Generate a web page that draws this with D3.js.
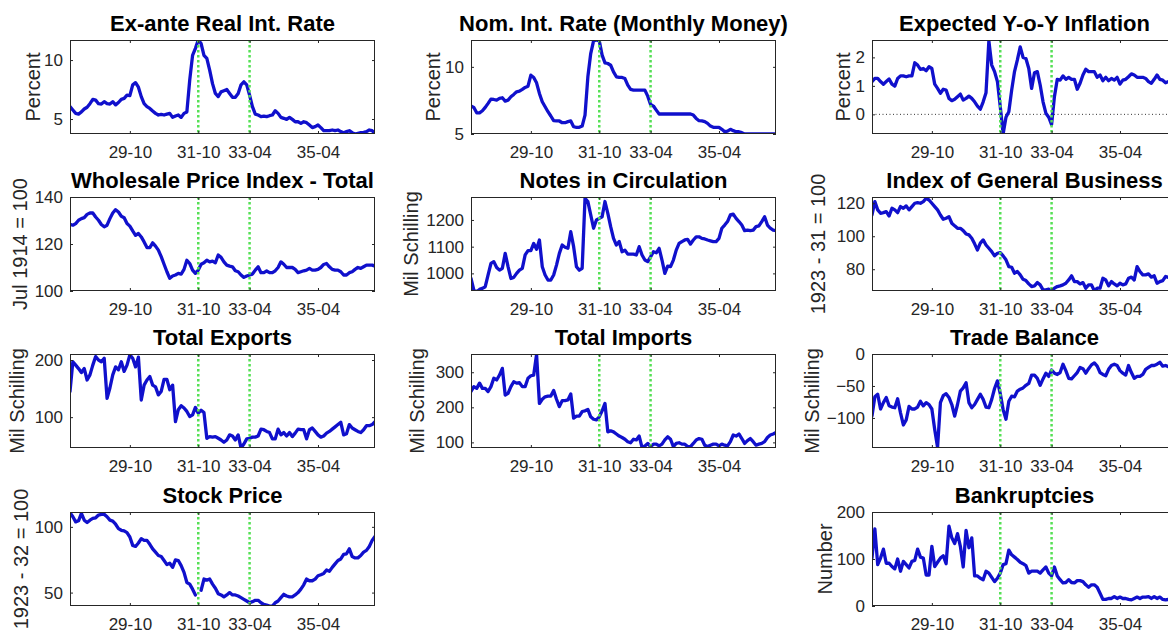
<!DOCTYPE html>
<html>
<head>
<meta charset="utf-8">
<script src="https://cdn.jsdelivr.net/npm/d3@7"></script>
<style>
  html, body { margin: 0; padding: 0; background: #ffffff; }
  svg { display: block; font-family: "Liberation Sans", Arial, Helvetica, sans-serif; }
</style>
</head>
<body>
<svg id="chart" width="1168" height="633"></svg>
<script>
// ---------------- DATA (monthly, Jan 1928 .. Dec 1936) ----------------
const tickMonths = [21, 45, 63, 87];
const tickLabels = ["29-10", "31-10", "33-04", "35-04"];
const markerMonths = [45, 63]; // 31-10 and 33-04

const realRate = [6.05,5.76,5.48,5.42,5.6,5.85,6.0,6.3,6.67,6.6,
  6.3,6.27,6.47,6.3,6.27,6.47,6.2,6.4,6.67,6.75,
  7.03,6.98,7.9,8.08,7.7,6.9,6.3,6.05,5.9,5.68,
  5.48,5.34,5.4,5.34,5.42,5.48,5.14,5.25,5.34,5.14,
  5.48,5.6,8.3,10.4,10.99,11.7,11.4,10.4,10.14,9.15,
  8.0,7.17,6.9,7.3,7.4,7.5,7.17,6.84,6.84,7.17,
  7.9,8.16,7.9,7.03,6.05,5.42,5.34,5.2,5.25,5.2,
  5.28,5.34,5.7,5.48,5.14,5.06,4.97,5.14,4.97,4.77,
  4.77,4.63,4.77,4.69,4.49,4.27,4.35,4.49,4.27,4.01,
  4.01,4.01,4.07,4.01,4.07,3.93,3.84,3.93,4.01,3.84,
  3.73,3.79,3.84,3.87,3.93,4.07,4.01,3.79];

const nomRate = [7.08,6.98,6.58,6.58,6.73,6.98,7.28,7.6,7.57,7.52,
  7.65,7.7,7.45,7.52,7.77,7.95,8.14,8.19,8.32,8.47,
  8.56,9.38,9.21,8.81,8.02,7.4,7.03,6.66,6.34,5.99,
  5.97,5.97,5.84,5.84,5.92,5.97,5.54,5.5,5.5,5.59,
  6.41,9.26,10.99,11.93,12,11.93,10.87,10.3,10.25,10.12,
  9.63,9.26,9.21,9.21,9.13,8.64,8.32,8.27,8.27,8.27,
  8.27,8.27,7.82,7.2,7.08,6.78,6.49,6.49,6.49,6.49,
  6.49,6.49,6.49,6.49,6.49,6.49,6.49,6.49,6.41,6.16,
  5.99,5.97,5.92,5.79,5.59,5.5,5.5,5.5,5.35,5.17,
  5.22,5.35,5.25,5.17,5.17,5.1,5,5,5,5,
  5,5,5,5,5,5,5,5];

const expInflation = [1.15,1.26,1.26,1.15,1.06,1.15,1.24,1.06,0.99,1.26,
  1.35,1.35,1.32,1.35,1.35,1.81,1.73,1.58,1.61,1.53,
  1.67,1.61,1.06,0.91,0.74,0.88,0.85,0.56,0.48,0.53,
  0.62,0.71,0.5,0.56,0.64,0.56,0.44,0.29,0.18,0.44,
  0.76,2.58,1.73,1.5,1.15,0.27,-0.69,-0.1,0.09,0.85,
  1.5,1.91,2.37,2.0,1.96,1.61,0.91,1.46,1.5,1.03,
  0.44,0.04,-0.1,-0.36,0.62,1.23,1.2,1.35,1.23,1.3,
  1.23,1.23,0.88,1.09,1.38,1.58,1.5,1.5,1.5,1.3,
  1.38,1.18,1.3,1.18,1.26,1.2,1.3,1.06,1.2,1.23,
  1.32,1.42,1.38,1.3,1.3,1.3,1.26,1.15,1.09,1.23,
  1.38,1.23,1.2,1.11,1.15,1.2,1.1,1.15];

const wholesalePrice = [128.4,128,128.7,130.1,130.8,131.2,132.6,133.2,133.2,131.5,
  130.1,128.3,127.3,128,130.8,133.2,134.6,133.6,131.8,131.2,
  128.7,127.6,125.6,123.7,124.5,123,120.9,118.5,118.5,120.5,
  119.1,117.4,114.6,111.4,108.2,105.4,106.4,106.8,107.5,107.2,
  109.2,113.1,111.7,108.9,107.5,108.9,111.4,112,113.1,112.4,
  112.7,112,115.3,114.3,112.4,111,110.6,110.3,108.6,108.2,
  106.8,105.8,106.4,106.8,107.2,108.9,110.3,107.8,107.8,108.5,
  107.8,107.8,108.6,110,112.4,111.4,110,110,110,109.2,
  107.8,108.2,108.6,108.9,109.6,108.9,108.9,109.2,110,111.3,
  111.7,110.3,109.2,108.9,108.9,108.2,106.8,106.8,107.8,108.2,
  109.2,110,109.6,110.3,111,111,111,110.6];

const notesCirculation = [981,937,931,940,944,950,994,1037,1044,1022,
  1012,1019,1075,1025,981,985,1000,1012,1019,1069,
  1085,1085,1112,1090,1125,1025,994,975,975,994,
  1031,1075,1106,1098,1094,1156,1100,1025,1012,1019,
  1281,1269,1219,1169,1200,1206,1212,1269,1225,1175,
  1131,1106,1119,1081,1087,1072,1072,1072,1069,1100,
  1069,1050,1044,1062,1081,1077,1094,1050,1000,1027,
  1025,1050,1087,1112,1119,1125,1127,1110,1125,1137,
  1137,1131,1129,1125,1122,1119,1119,1131,1169,1181,
  1194,1219,1222,1206,1194,1181,1160,1162,1160,1162,
  1175,1178,1194,1212,1181,1169,1162,1160];

const generalBusiness = [112.9,121,116,113.9,114.3,114.9,112.3,117,116,114.3,
  118,117,118.4,116,118,120,120.4,120,121,123,
  122,120,118,116,112.9,110.3,110.9,111.9,107.9,106.3,
  104.8,104.8,103.4,101.4,100.8,98.8,95.4,91.7,95.8,97.8,
  94.7,92.7,90.7,88.1,89.7,90.1,88.1,85.7,81.6,81.2,
  77.6,78.6,76.6,73.9,73.1,71.1,69.5,69.9,71.9,70.5,
  67.5,67.5,67.9,66.9,68.5,69.5,69.9,70.5,71.5,73.5,
  76,72.5,72.5,71.1,71.9,68.5,70.5,70.5,66.9,68.5,
  68.5,74.5,73.5,69.9,72.5,71.1,69.9,71.5,70.5,71.1,
  74.5,75.2,73.5,81.6,78.6,76.6,76.6,77.2,75.2,76,
  71.5,72.5,73.1,75.6,75,76,74,77];

const totalExports = [144.8,197,191,185,178,185,165,174,191,206,
  200,197,203,133,151,174,188,183,197,180,
  191,209,203,188,205,130,156,165,171,156,
  153,139,145,166,166,148,156,92,113,120,
  116,110,101,104,117,107,112,108,63,66,
  65,66,63,60,56,60,69,67,60,69,
  46,53,62,63,65,65,67,79,78,75,
  73,62,62,79,69,73,67,73,66,72,
  79,78,78,62,78,81,75,69,65,67,
  72,75,79,83,87,91,69,71,87,81,
  78,75,73,78,85,85,87,92];

const totalImports = [245,259,254,269,254,254,245,259,283,278,
  292,311,235,240,259,273,269,270,259,259,
  283,290,292,351,211,223,230,232,232,248,
  223,202,219,219,221,238,169,175,175,188,
  190,194,173,166,164,173,190,211,130,133,
  130,124,118,114,109,102,99,109,107,118,
  86,90,97,88,95,95,90,95,107,116,
  109,88,97,99,95,95,88,88,97,107,
  111,109,92,88,92,95,95,90,95,92,
  90,102,121,118,124,111,97,105,111,102,
  92,95,97,102,114,121,124,128];

const tradeBalance = [-97,-67,-63,-86,-76,-68,-81,-83,-84,-70,
  -92,-111,-103,-82,-86,-86,-83,-74,-81,-76,
  -79,-86,-118,-146,-76,-65,-62,-68,-79,-97,
  -79,-58,-53,-45,-76,-84,-79,-71,-63,-71,
  -83,-84,-71,-54,-42,-62,-87,-102,-74,-66,
  -67,-58,-55,-53,-49,-46,-33,-33,-38,-49,
  -39,-30,-35,-25,-30,-32,-29,-16,-26,-38,
  -39,-34,-29,-21,-23,-30,-23,-17,-14,-19,
  -29,-32,-34,-24,-18,-16,-18,-26,-30,-33,
  -18,-29,-38,-35,-35,-32,-24,-21,-18,-18,
  -16,-13,-19,-18,-20,-22,-18,-16];

const stockPrice = [110.8,107.7,103.8,104.6,110.3,105.1,103.3,105.1,106.4,106.9,
  109,109.5,109.5,107.7,105.1,104.4,102,98.7,97.4,96.9,
  95.6,92.3,85.9,85.1,87.7,91,89.7,89.7,86.7,83.3,
  80.8,78.2,77.4,74.4,71.3,72.3,69.2,74.9,74.4,70.5,
  65.4,57.7,56.4,52.6,48.2,null,51.8,60.3,59.5,60.3,
  56.4,53.3,49.2,48.2,46.7,48.2,50,48.2,48.2,47.4,
  46.2,44.9,43.6,42.3,43.1,44.1,44.1,42.3,41,40.5,
  39.7,39.7,42.3,43.6,46.2,48.7,47.4,46.7,46.7,48.2,
  50,52.6,55.9,60.3,59,59,60.3,62.8,63.6,64.6,
  67.2,66.2,69.2,71.8,74.4,75.6,79,79.5,83.3,77.4,
  76.4,76.4,78.2,80.8,82.1,85.1,89.7,92.8];

const bankruptcies = [102,164,88,102,121,91,91,84,79,100,
  74,95,88,81,95,97,121,104,102,66,
  66,127,84,93,102,107,90,170,145,133,
  154,127,83,161,124,145,64,64,59,56,
  74,70,61,52,59,70,88,90,119,109,
  104,99,93,90,86,70,74,74,74,70,
  77,83,70,64,83,64,56,49,50,56,
  50,49,54,54,52,45,40,45,45,40,
  27,14,14,16,16,20,16,19,16,16,
  14,13,16,19,16,19,19,20,16,20,
  16,19,14,13,14,15,13,14];

// ---------------- PANEL SETUP ----------------
const panels = [
  {title: "Ex-ante Real Int. Rate", ylabel: "Percent", values: realRate, domain: [3.73, 11.7], yticks: [5, 10], col: 0, row: 0, labelBase: 40},
  {title: "Nom. Int. Rate (Monthly Money)", ylabel: "Percent", values: nomRate, domain: [5, 12], yticks: [5, 10], col: 1, row: 0, labelBase: 440},
  {title: "Expected Y-o-Y Inflation", ylabel: "Percent", values: expInflation, domain: [-0.69, 2.61], yticks: [0, 1, 2], col: 2, row: 0, labelBase: 850, zeroLine: true},
  {title: "Wholesale Price Index - Total", ylabel: "Jul 1914 = 100", values: wholesalePrice, domain: [100, 140], yticks: [100, 120, 140], col: 0, row: 1, labelBase: 27},
  {title: "Notes in Circulation", ylabel: "Mil Schilling", values: notesCirculation, domain: [934, 1286], yticks: [1000, 1100, 1200], col: 1, row: 1, labelBase: 418},
  {title: "Index of General Business", ylabel: "1923 - 31 = 100", values: generalBusiness, domain: [66.8, 123.8], yticks: [80, 100, 120], col: 2, row: 1, labelBase: 825},
  {title: "Total Exports", ylabel: "Mil Schilling", values: totalExports, domain: [46, 210.5], yticks: [100, 200], col: 0, row: 2, labelBase: 24},
  {title: "Total Imports", ylabel: "Mil Schilling", values: totalImports, domain: [84, 352], yticks: [100, 200, 300], col: 1, row: 2, labelBase: 424},
  {title: "Trade Balance", ylabel: "Mil Schilling", values: tradeBalance, domain: [-147, 0], yticks: [-100, -50, 0], col: 2, row: 2, labelBase: 819},
  {title: "Stock Price", ylabel: "1923 - 32 = 100", values: stockPrice, domain: [39.8, 111.3], yticks: [50, 100], col: 0, row: 3, labelBase: 28},
  {title: "Bankruptcies", ylabel: "Number", values: bankruptcies, domain: [0, 200], yticks: [0, 100, 200], col: 2, row: 3, labelBase: 832}
];

const colLeft = [70, 471, 872];
const rowTop = [40, 197, 354, 512];
const PW = 305, PH = 94;
const nMonths = 108;

const svg = d3.select("#chart");
svg.append("rect").attr("width", 1168).attr("height", 633).attr("fill", "#ffffff");

const axisColor = "#262626";
const lineColor = "#1010cc";
const greenColor = "#55e055";

panels.forEach((p, idx) => {
  const L = colLeft[p.col], T = rowTop[p.row];
  const x = d3.scaleLinear().domain([0, nMonths - 1]).range([L, L + PW]);
  const y = d3.scaleLinear().domain(p.domain).range([T + PH, T]);
  const g = svg.append("g");

  const clipId = "clip" + idx;
  svg.append("clipPath").attr("id", clipId)
    .append("rect").attr("x", L).attr("y", T).attr("width", PW).attr("height", PH);

  const plot = g.append("g").attr("clip-path", `url(#${clipId})`);

  if (p.zeroLine) {
    plot.append("line")
      .attr("x1", L).attr("x2", L + PW)
      .attr("y1", y(0)).attr("y2", y(0))
      .attr("stroke", "#333").attr("stroke-width", 1)
      .attr("stroke-dasharray", "1,2.5");
  }

  const line = d3.line()
    .defined(d => d != null)
    .x((d, i) => x(i))
    .y(d => y(d));

  plot.append("path")
    .datum(p.values)
    .attr("d", line)
    .attr("fill", "none")
    .attr("stroke", lineColor)
    .attr("stroke-width", 3.3)
    .attr("stroke-linejoin", "round")
    .attr("stroke-linecap", "round");

  markerMonths.forEach(m => {
    plot.append("line")
      .attr("x1", x(m)).attr("x2", x(m))
      .attr("y1", T).attr("y2", T + PH)
      .attr("stroke", greenColor)
      .attr("stroke-width", 2.5)
      .attr("stroke-dasharray", "2.5,2.5");
  });

  // axes
  const xb = g.append("g").attr("transform", `translate(0,${T + PH})`)
    .call(d3.axisBottom(x).tickValues(tickMonths).tickFormat((d, i) => tickLabels[i])
      .tickSizeInner(-3).tickSizeOuter(0).tickPadding(12));
  const xt = g.append("g").attr("transform", `translate(0,${T})`)
    .call(d3.axisTop(x).tickValues(tickMonths).tickFormat("").tickSizeInner(-3).tickSizeOuter(0));
  const yl = g.append("g").attr("transform", `translate(${L},0)`)
    .call(d3.axisLeft(y).tickValues(p.yticks).tickFormat(d3.format("d"))
      .tickSizeInner(-3).tickSizeOuter(0).tickPadding(7));
  const yr = g.append("g").attr("transform", `translate(${L + PW},0)`)
    .call(d3.axisRight(y).tickValues(p.yticks).tickFormat("").tickSizeInner(-3).tickSizeOuter(0));

  [xb, xt, yl, yr].forEach(a => {
    a.select(".domain").remove();
    a.selectAll(".tick line").attr("stroke", axisColor).attr("stroke-width", 1);
    a.selectAll("text").attr("fill", axisColor).style("font-size", "17px")
      .style("font-family", "'Liberation Sans', Arial, sans-serif");
  });

  g.append("rect")
    .attr("x", L + 0.5).attr("y", T + 0.5)
    .attr("width", PW - 1).attr("height", PH - 1)
    .attr("fill", "none").attr("stroke", axisColor).attr("stroke-width", 1);

  // title
  g.append("text")
    .attr("x", L + PW / 2).attr("y", T - 9)
    .attr("text-anchor", "middle")
    .style("font-size", "22px").style("font-weight", "bold")
    .attr("fill", "#000")
    .text(p.title);

  // y label
  g.append("text")
    .attr("transform", `translate(${p.labelBase},${T + PH / 2}) rotate(-90)`)
    .attr("text-anchor", "middle")
    .style("font-size", "20px")
    .attr("fill", axisColor)
    .text(p.ylabel);
});
</script>
</body>
</html>
